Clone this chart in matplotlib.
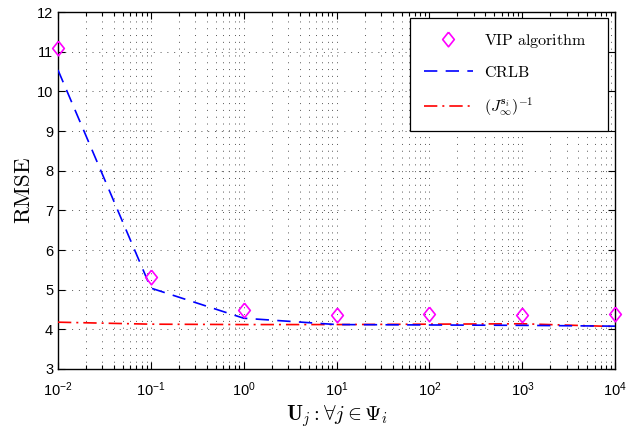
import matplotlib
matplotlib.use("Agg")
import matplotlib.pyplot as plt
from matplotlib.ticker import LogLocator, FixedLocator, NullFormatter

plt.rcParams['font.family'] = ['Liberation Sans', 'DejaVu Sans']
plt.rcParams['mathtext.fontset'] = 'custom'
plt.rcParams['mathtext.rm'] = 'Liberation Sans'
plt.rcParams['mathtext.it'] = 'Liberation Sans:italic'
plt.rcParams['mathtext.bf'] = 'Liberation Sans:bold'

# Data
u_values = [1e-2, 1e-1, 1e0, 1e1, 1e2, 1e3, 1e4]
vip_rmse = [11.09, 5.33, 4.48, 4.36, 4.38, 4.35, 4.38]
crlb = [10.54, 5.04, 4.28, 4.12, 4.11, 4.10, 4.08]
jinv = [4.18, 4.13, 4.12, 4.12, 4.13, 4.14, 4.07]
x_tick_exps = [-2, -1, 0, 1, 2, 3, 4]
y_ticks = [3, 4, 5, 6, 7, 8, 9, 10, 11, 12]

diamond = [(0, 1), (0.8, 0), (0, -1), (-0.8, 0), (0, 1)]

fig = plt.figure(figsize=(6.42, 4.30), dpi=100)
ax = fig.add_axes([0.0903, 0.1419, 0.868, 0.830])

ax.plot(u_values, vip_rmse, linestyle='none', marker=diamond, markersize=10.5,
        markerfacecolor='none', markeredgecolor='#ff00ff', markeredgewidth=1.2,
        label=r'$\mathrm{VIP\ algorithm}$', clip_on=False, zorder=5)
ax.plot(u_values, crlb, color='#0000ff', linestyle=(0, (8, 5)), linewidth=1.2,
        label=r'$\mathrm{CRLB}$', zorder=4)
ax.plot(u_values, jinv, color='#ff0000', linestyle=(0, (8, 3, 1.2, 3)), linewidth=1.2,
        label=r'$(J_{\infty}^{\mathbf{s}_i})^{-1}$', zorder=3)

ax.set_xscale('log')
ax.set_xlim(1e-2, 1e4)
ax.set_ylim(3, 12)
ax.set_yticks(y_ticks)
ax.xaxis.set_major_locator(FixedLocator(u_values))
ax.set_xticklabels([r'$10^{%d}$' % e for e in x_tick_exps])
ax.xaxis.set_minor_locator(LogLocator(base=10, subs=range(2, 10), numticks=20))
ax.xaxis.set_minor_formatter(NullFormatter())

grid_style = dict(linestyle=(0, (1, 6)), color='#555555', linewidth=0.7)
ax.grid(True, which='major', axis='both', **grid_style)
ax.grid(True, which='minor', axis='x', **grid_style)

ax.tick_params(which='both', direction='in', top=True, right=True, labelsize=10.5, width=0.8)
ax.tick_params(which='major', length=5)
ax.tick_params(which='minor', length=3)
ax.tick_params(axis='x', which='major', pad=8)
for s in ax.spines.values():
    s.set_linewidth(1.0)

xl = ax.set_xlabel(r'$\mathbf{U}_j : \forall j \in \Psi_i$', fontsize=15, labelpad=3)
xl.set_math_fontfamily('cm')
yl = ax.set_ylabel(r'$\mathrm{RMSE}$', fontsize=16.5, labelpad=1)
yl.set_math_fontfamily('cm')

leg = ax.legend(loc='upper left', bbox_to_anchor=(0.632, 0.983, 0.3555, 0.0),
                mode='expand', fontsize=11.5,
                frameon=True, fancybox=False, edgecolor='black', framealpha=1,
                handlelength=3.1, borderpad=0.85, labelspacing=0.95, handletextpad=0.65,
                borderaxespad=0)
leg.get_frame().set_linewidth(0.9)
for t in leg.get_texts():
    t.set_math_fontfamily('cm')

fig.savefig('out.png', dpi=100)
